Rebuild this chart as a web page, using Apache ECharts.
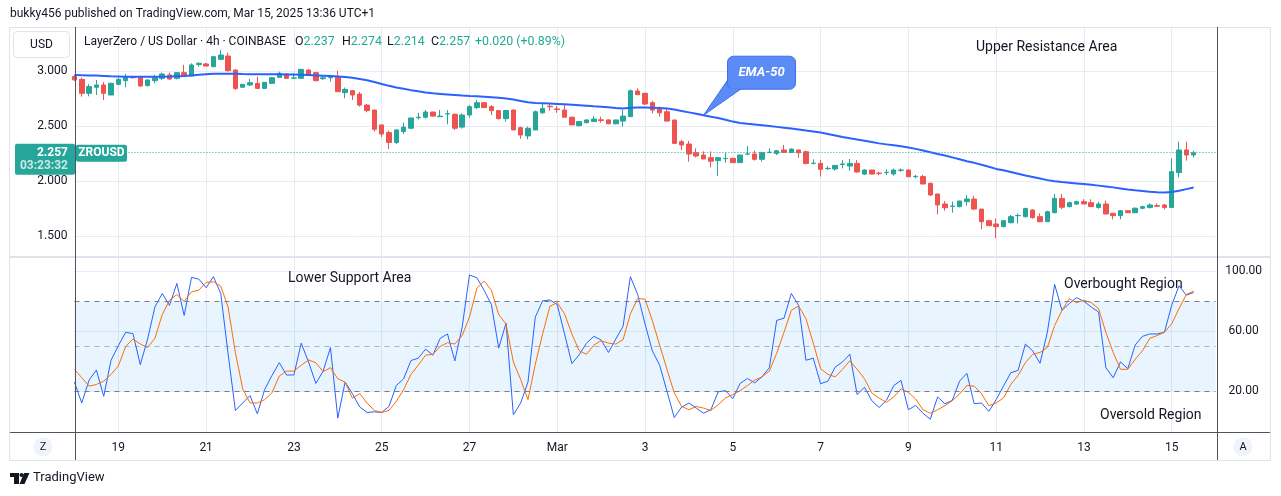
<!DOCTYPE html>
<html><head><meta charset="utf-8">
<script src="https://cdn.jsdelivr.net/npm/echarts@6/dist/echarts.min.js"></script>
<style>html,body{margin:0;padding:0;background:#fff}#c{width:1281px;height:496px}</style>
</head><body><div id="c"></div>
<script>
// ---------- DATA (4h candles, LayerZero / US Dollar, COINBASE) ----------
// first candle: 2025-02-18 00:00, last: 2025-03-15 12:00
const firstCandle = '2025-02-18 00:00';
const extraSlots = 3; // empty 4h slots on the right
const opens = [
 2.95,2.924,2.797,2.852,2.873,2.782,2.879,2.912,2.945,2.948,
 2.867,2.912,2.933,2.964,2.933,2.985,2.955,3.058,3.064,3.039,
 3.106,3.136,3.009,2.852,2.873,2.888,2.842,2.888,2.942,2.973,
 2.935,2.933,3.009,2.985,2.930,2.939,2.948,2.803,2.821,2.79,
 2.69,2.645,2.51,2.44,2.35,2.45,2.48,2.575,2.58,2.627,
 2.585,2.61,2.606,2.49,2.60,2.667,2.712,2.676,2.64,2.567,
 2.645,2.485,2.41,2.464,2.62,2.68,2.655,2.645,2.58,2.503,
 2.53,2.54,2.556,2.555,2.52,2.545,2.585,2.818,2.797,2.712,
 2.654,2.63,2.554,2.357,2.336,2.257,2.236,2.212,2.185,2.203,
 2.206,2.167,2.245,2.245,2.197,2.259,2.251,2.282,2.26,2.282,
 2.266,2.16,2.16,2.112,2.109,2.15,2.136,2.16,2.063,2.1,
 2.072,2.076,2.064,2.097,2.1,2.039,2.04,1.979,1.882,1.791,
 1.770,1.767,1.812,1.836,1.745,1.639,1.609,1.585,1.621,1.685,
 1.676,1.736,1.676,1.63,1.712,1.842,1.767,1.791,1.812,1.803,
 1.76,1.791,1.706,1.685,1.73,1.712,1.752,1.758,1.776,1.782,
 1.76,2.076,2.282,2.237];
const highs = [
 2.96,2.94,2.88,2.918,2.90,2.894,2.94,2.973,2.955,2.955,
 2.925,2.964,2.985,2.985,2.99,3.055,3.07,3.079,3.075,3.135,
 3.191,3.167,3.015,2.882,2.927,2.948,2.90,2.942,2.994,2.978,
 2.979,3.02,3.015,2.99,2.964,2.964,3.003,2.85,2.827,2.81,
 2.70,2.65,2.51,2.458,2.473,2.53,2.573,2.62,2.645,2.63,
 2.645,2.645,2.615,2.615,2.69,2.736,2.715,2.69,2.645,2.64,
 2.652,2.494,2.494,2.64,2.70,2.706,2.682,2.69,2.585,2.54,
 2.56,2.59,2.585,2.56,2.555,2.645,2.833,2.842,2.803,2.73,
 2.676,2.66,2.56,2.373,2.364,2.297,2.27,2.27,2.215,2.257,
 2.21,2.236,2.318,2.275,2.267,2.297,2.282,2.327,2.297,2.282,
 2.276,2.197,2.19,2.136,2.145,2.19,2.20,2.19,2.106,2.1,
 2.085,2.106,2.112,2.115,2.106,2.055,2.055,1.985,1.882,1.818,
 1.812,1.821,1.873,1.864,1.745,1.648,1.66,1.645,1.691,1.706,
 1.758,1.743,1.706,1.73,1.882,1.882,1.812,1.821,1.834,1.834,
 1.812,1.821,1.706,1.736,1.73,1.761,1.776,1.797,1.797,1.791,
 2.206,2.358,2.358,2.274];
const lows = [
 2.91,2.767,2.77,2.782,2.736,2.78,2.87,2.852,2.93,2.855,
 2.86,2.888,2.918,2.918,2.924,2.955,2.955,3.039,3.045,3.035,
 3.106,2.994,2.827,2.852,2.864,2.842,2.84,2.885,2.94,2.93,
 2.930,2.93,2.96,2.905,2.918,2.903,2.812,2.752,2.736,2.676,
 2.625,2.45,2.40,2.29,2.336,2.427,2.47,2.56,2.567,2.585,
 2.58,2.515,2.464,2.476,2.576,2.652,2.665,2.60,2.56,2.54,
 2.464,2.385,2.379,2.464,2.61,2.64,2.62,2.58,2.51,2.494,
 2.524,2.536,2.53,2.518,2.515,2.494,2.585,2.785,2.69,2.615,
 2.585,2.54,2.342,2.28,2.176,2.215,2.20,2.124,2.045,2.166,
 2.167,2.167,2.236,2.185,2.176,2.251,2.236,2.26,2.254,2.212,
 2.151,2.151,2.04,2.10,2.094,2.115,2.094,2.076,2.054,2.063,
 2.052,2.054,2.048,2.082,2.033,2.024,1.97,1.864,1.697,1.73,
 1.712,1.76,1.776,1.736,1.563,1.594,1.479,1.579,1.615,1.615,
 1.667,1.657,1.624,1.63,1.706,1.742,1.761,1.782,1.791,1.767,
 1.748,1.70,1.652,1.652,1.712,1.706,1.742,1.752,1.767,1.742,
 1.76,2.033,2.185,2.214];
const closes = [
 2.92,2.797,2.858,2.873,2.797,2.888,2.924,2.948,2.939,2.864,
 2.918,2.939,2.973,2.927,2.985,2.958,3.055,3.07,3.045,3.13,
 3.145,3.003,2.842,2.879,2.894,2.842,2.897,2.939,2.979,2.933,
 2.937,3.015,2.964,2.912,2.939,2.942,2.812,2.833,2.782,2.69,
 2.64,2.47,2.427,2.35,2.464,2.49,2.573,2.58,2.627,2.59,
 2.59,2.612,2.48,2.60,2.676,2.712,2.667,2.64,2.567,2.64,
 2.464,2.418,2.479,2.63,2.66,2.675,2.65,2.58,2.51,2.54,
 2.555,2.563,2.55,2.52,2.555,2.59,2.82,2.785,2.70,2.645,
 2.62,2.545,2.342,2.327,2.245,2.227,2.20,2.18,2.212,2.205,
 2.167,2.236,2.246,2.197,2.257,2.262,2.275,2.26,2.29,2.257,
 2.16,2.161,2.106,2.115,2.142,2.155,2.16,2.082,2.1,2.063,
 2.068,2.079,2.1,2.1,2.039,2.042,1.973,1.873,1.782,1.757,
 1.772,1.818,1.836,1.745,1.63,1.594,1.585,1.639,1.676,1.686,
 1.749,1.667,1.63,1.721,1.842,1.761,1.803,1.812,1.791,1.767,
 1.791,1.70,1.685,1.73,1.712,1.752,1.767,1.782,1.770,1.76,
 2.085,2.282,2.236,2.257];
const ema50 = [
 2.963,
 2.962,2.960,2.958,2.955,2.952,2.950,
 2.948,2.947,2.947,2.947,2.948,2.948,2.949,
 2.952,2.955,2.960,2.965,2.970,2.974,2.976,
 2.976,2.974,2.972,2.971,2.970,2.970,2.970,
 2.970,2.969,2.968,2.966,2.963,2.960,2.957,
 2.954,2.950,2.945,2.938,2.928,2.915,
 2.900,2.882,2.865,2.850,2.838,2.826,2.815,2.805,
 2.797,2.792,2.787,2.782,2.777,2.773,2.770,2.766,2.762,
 2.757,2.750,2.740,2.728,2.715,2.710,2.707,2.704,2.701,
 2.698,2.694,2.689,2.684,2.679,2.675,2.670,2.664,
 2.660,2.665,2.668,2.668,2.666,2.663,2.660,
 2.650,2.637,2.624,2.611,2.598,2.585,2.572,2.556,
 2.540,2.528,2.520,2.513,2.506,2.499,2.492,2.485,2.477,2.469,
 2.460,2.450,2.440,2.428,2.414,2.400,2.388,2.377,2.366,2.354,
 2.342,2.333,2.324,2.315,2.305,2.292,2.278,2.262,2.245,2.232,
 2.215,2.198,2.180,2.165,2.148,2.130,2.110,2.098,2.082,2.066,
 2.050,2.036,2.022,2.008,1.998,1.990,1.984,1.978,1.972,1.965,
 1.958,1.950,1.942,1.932,1.922,1.915,1.909,1.903,1.898,1.895,
 1.900,1.912,1.926,1.940];
// Stochastic RSI  %K (blue) and %D (orange)
const stochK = [
 26.1,12.2,27.4,34.1,16.6,40.6,50.3,59.2,58.3,37.7,
 54.7,76.0,85.0,77.1,91.7,70.4,95.7,94.6,88.8,96.2,
 85.0,45.0,7.2,12.2,17.1,5.0,21.1,30.5,39.0,30.8,
 30.8,52.0,39.5,25.2,33.4,49.1,2.1,26.1,18.4,9.5,
 5.9,6.3,5.9,9.9,23.8,28.3,40.4,42.0,48.0,44.0,
 55.2,58.1,40.2,62.6,97.3,95.5,87.2,77.6,48.7,65.3,
 4.3,12.2,26.1,69.3,80.1,80.7,77.6,58.1,38.4,44.2,
 52.0,56.5,54.1,45.8,54.7,63.2,96.2,84.3,64.8,46.9,
 37.3,20.0,2.5,9.5,12.2,8.8,5.4,7.7,19.6,20.4,
 15.1,25.2,28.5,25.6,29.6,35.7,67.1,68.6,85.0,77.1,
 40.6,42.0,25.0,26.7,36.1,39.5,44.6,17.8,22.7,13.7,
 9.2,13.9,23.8,27.2,7.7,10.6,5.4,1.4,16.2,11.7,
 13.9,26.7,31.9,11.7,12.2,6.6,14.4,23.4,32.3,33.9,
 51.4,46.9,38.6,59.2,91.0,73.8,78.3,82.3,79.8,76.0,
 72.7,35.7,29.0,39.5,35.0,50.7,56.5,58.1,58.1,59.2,
 77.1,90.1,83.9,85.7];
const stochD = [
 34.6,29.0,23.4,24.5,26.7,31.2,36.8,49.8,54.7,51.4,
 49.1,55.2,70.9,80.5,84.3,79.8,86.1,87.2,92.4,92.8,
 89.9,76.0,45.8,21.6,12.2,12.2,14.4,18.9,30.1,33.4,
 33.4,37.3,40.8,39.0,33.0,35.7,28.3,26.1,15.5,18.4,
 12.2,7.2,5.9,7.2,13.3,21.1,31.2,37.3,44.0,44.6,
 49.8,52.3,51.4,57.0,69.3,88.3,93.3,87.2,70.9,64.8,
 39.5,27.8,14.4,37.9,58.1,76.5,78.9,71.5,58.1,46.9,
 44.6,50.7,53.6,52.0,51.4,54.3,71.5,81.6,81.2,67.1,
 50.7,34.6,18.9,9.9,7.7,9.9,8.8,7.2,11.0,15.5,
 17.8,20.4,23.8,27.4,29.6,33.4,45.3,59.2,73.8,76.7,
 68.2,52.0,35.0,31.2,29.6,34.6,40.2,34.6,28.3,18.9,
 15.5,12.6,16.2,21.6,19.3,14.8,7.7,5.4,7.7,10.4,
 13.7,18.2,23.8,23.4,18.4,10.4,12.2,15.5,24.5,30.5,
 39.0,44.6,45.8,49.1,63.7,73.8,81.6,78.9,80.5,78.9,
 74.9,59.2,45.8,34.6,34.6,41.3,46.9,55.2,57.0,59.2,
 64.8,74.9,84.3,86.6];
const tickDates  = ['2025-02-19 00:00','2025-02-21 00:00','2025-02-23 00:00','2025-02-25 00:00','2025-02-27 00:00','2025-03-01 00:00','2025-03-03 00:00','2025-03-05 00:00','2025-03-07 00:00','2025-03-09 00:00','2025-03-11 00:00','2025-03-13 00:00','2025-03-15 00:00'];
const tickLabels = ['19','21','23','25','27','Mar','3','5','7','9','11','13','15'];
const priceTicks = [1.0,1.5,2.0,2.5,3.0,3.5];
const oscTicks = [-20,20,60,100,140];
const lastPrice = 2.257;
const emaCalloutAt = '2025-03-04 08:00';

// ---------- categories ----------
function fmt(d){const p=n=>String(n).padStart(2,'0');return d.getUTCFullYear()+'-'+p(d.getUTCMonth()+1)+'-'+p(d.getUTCDate())+' '+p(d.getUTCHours())+':'+p(d.getUTCMinutes());}
const t0 = Date.parse(firstCandle.replace(' ','T')+':00Z');
const categories = [];
for (let i=0;i<opens.length+extraSlots;i++) categories.push(fmt(new Date(t0+i*4*3600e3)));
const tickMap = {}; tickDates.forEach((d,i)=>tickMap[d]=tickLabels[i]);
const candleData = opens.map((o,i)=>[o,closes[i],lows[i],highs[i]]);

// ---------- layout ----------
const X0 = 74.45, STEP = 7.315;
const GW = (categories.length-1)*STEP;
const FONT = 'Roboto, "Noto Sans", sans-serif';
const INK = '#131722', GRID = '#e6ecf5', UP = '#26a69a', DOWN = '#ef5350';
const chart = echarts.init(document.getElementById('c'), null, {renderer:'canvas'});
const catAxis = (gi, extra) => Object.assign({type:'category', gridIndex:gi, data:categories, boundaryGap:false,
  axisLine:{show:false}, axisTick:{show:false}, axisLabel:{show:false}, splitLine:{show:false}}, extra||{});
const isTick = (i, v) => tickMap[v !== undefined ? v : categories[i]] !== undefined;

chart.setOption({
  animation:false,
  backgroundColor:'#ffffff',
  textStyle:{fontFamily:FONT},
  grid:[
    {left:X0, width:GW, top:16, height:275},      // price pane (1.0 .. 3.5)
    {left:X0, width:GW, top:210.8, height:240.6}, // oscillator pane (-20 .. 140)
    {left:X0, width:GW, top:432, height:1},       // time axis
    {left:X0, width:GW, top:27, height:405}       // vertical grid lines
  ],
  xAxis:[
    catAxis(0), catAxis(1),
    catAxis(2,{axisLabel:{show:true, interval:(i,v)=>isTick(i,v), formatter:v=>tickMap[v]||'', color:INK, fontSize:12, margin:9, fontFamily:FONT}}),
    catAxis(3,{splitLine:{show:true, interval:(i,v)=>isTick(i,v), lineStyle:{color:GRID, width:1}}})
  ],
  yAxis:[
    {type:'value', gridIndex:0, min:priceTicks[0], max:priceTicks[priceTicks.length-1], interval:0.5, position:'left',
     axisLine:{show:false}, axisTick:{show:false},
     axisLabel:{color:INK, fontSize:12, margin:7, fontFamily:FONT, formatter:v=>(v<1.4||v>3.1)?'':v.toFixed(3)},
     splitLine:{show:true, lineStyle:{color:['rgba(0,0,0,0)',GRID,GRID,GRID,GRID,'rgba(0,0,0,0)'], width:1}}},
    {type:'value', gridIndex:1, min:oscTicks[0], max:oscTicks[oscTicks.length-1], interval:40, position:'right',
     axisLine:{show:false}, axisTick:{show:false},
     axisLabel:{color:INK, fontSize:12, margin:28, align:'center', fontFamily:FONT, formatter:v=>(v<0||v>100)?'':v.toFixed(2)},
     splitLine:{show:true, lineStyle:{color:['rgba(0,0,0,0)',GRID,GRID,GRID,'rgba(0,0,0,0)'], width:1}}},
    {type:'value', gridIndex:2, show:false},
    {type:'value', gridIndex:3, show:false}
  ],
  series:[
    {type:'candlestick', xAxisIndex:0, yAxisIndex:0, data:candleData, barWidth:5,
     itemStyle:{color:UP, color0:DOWN, borderColor:UP, borderColor0:DOWN, borderWidth:1},
     markLine:{silent:true, symbol:'none', label:{show:false},
       lineStyle:{color:UP, type:[1,2], width:1}, data:[{yAxis:lastPrice}]}},
    {type:'line', xAxisIndex:0, yAxisIndex:0, data:ema50, showSymbol:false, symbol:'none',
     lineStyle:{color:'#2962ff', width:2}, z:3},
    {type:'line', xAxisIndex:1, yAxisIndex:1, data:stochK, showSymbol:false, symbol:'none',
     lineStyle:{color:'#2962ff', width:1},
     markArea:{silent:true, itemStyle:{color:'rgba(33,150,243,0.1)'}, data:[[{yAxis:20},{yAxis:80}]]},
     markLine:{silent:true, symbol:'none', label:{show:false}, data:[
       {yAxis:80, lineStyle:{color:'#787b86', type:[5,5], width:1}},
       {yAxis:50, lineStyle:{color:'rgba(120,123,134,0.55)', type:[5,5], width:1}},
       {yAxis:20, lineStyle:{color:'#787b86', type:[5,5], width:1}}]}},
    {type:'line', xAxisIndex:1, yAxisIndex:1, data:stochD, showSymbol:false, symbol:'none',
     lineStyle:{color:'#ff6d00', width:1}}
  ]
});

// ---------- chrome & annotations ----------
const tf = (x,y,text,opt) => ({type:'text', x, y, silent:true, z:50,
  style:Object.assign({text, fill:INK, font:'12px '+FONT, textAlign:'left', textVerticalAlign:'middle'}, opt||{})});
const line = (x1,y1,x2,y2,color,w) => ({type:'line', silent:true, z:40, shape:{x1,y1,x2,y2}, style:{stroke:color, lineWidth:w||1}});
const g = [];
g.push(tf(10,14,'bukky456 published on TradingView.com, Mar 15, 2025 13:36 UTC+1'));
g.push({type:'rect', silent:true, z:39, shape:{x:9.5,y:27.5,width:1261,height:433}, style:{fill:'none', stroke:'#e0e3eb', lineWidth:1}});
g.push({type:'rect', silent:true, z:39, shape:{x:10,y:256,width:1260,height:2}, style:{fill:'#e0e3eb'}});
g.push(line(75.5,27,75.5,460,'#50535e',1));
g.push(line(1217.5,27,1217.5,460,'#50535e',1));
g.push(line(10,432.5,1270,432.5,'#50535e',1));
g.push({type:'rect', silent:true, z:41, shape:{x:13.5,y:31.5,width:56,height:26,r:4}, style:{fill:'#fff', stroke:'#e0e3eb', lineWidth:1}});
g.push(tf(41.5,44.5,'USD',{textAlign:'center', font:'12px '+FONT}));
g.push(tf(84,42,'LayerZero / US Dollar · 4h · COINBASE',{font:'12px '+FONT}));
const legendVals = [['O','2.237',295],['H','2.274',342],['L','2.214',387],['C','2.257',431]];
legendVals.forEach(([k,v,x])=>g.push({type:'text', x, y:42, silent:true, z:50,
  style:{text:k+'{v|'+v+'}', fill:INK, font:'12.4px '+FONT, textVerticalAlign:'middle', rich:{v:{fill:'#22ab94', font:'12.4px '+FONT}}}}));
g.push(tf(475,42,'+0.020 (+0.89%)',{fill:'#22ab94', font:'12.4px '+FONT}));
// annotations
g.push(tf(976,47,'Upper Resistance Area',{font:'14px '+FONT}));
g.push(tf(288,278,'Lower Support Area',{font:'14px '+FONT}));
g.push(tf(1064,284,'Overbought Region',{font:'14px '+FONT}));
g.push(tf(1100,415,'Oversold Region',{font:'14px '+FONT}));
// Z / A buttons
g.push({type:'circle', silent:true, z:41, shape:{cx:43,cy:447,r:9.5}, style:{fill:'#f0f3fa'}});
g.push(tf(43,447.5,'Z',{textAlign:'center', font:'11px '+FONT}));
g.push({type:'circle', silent:true, z:41, shape:{cx:1243,cy:447,r:9.5}, style:{fill:'#f0f3fa'}});
g.push(tf(1243,447.5,'A',{textAlign:'center', font:'11px '+FONT}));
// TradingView logo (simplified mark) + wordmark
g.push({type:'rect', silent:true, z:41, shape:{x:10,y:473,width:9,height:4}, style:{fill:INK}});
g.push({type:'rect', silent:true, z:41, shape:{x:14,y:473,width:5,height:11}, style:{fill:INK}});
g.push({type:'circle', silent:true, z:41, shape:{cx:21.5,cy:475,r:2}, style:{fill:INK}});
g.push({type:'polygon', silent:true, z:41, shape:{points:[[24,473],[29.5,473],[24.5,484],[19.5,484]]}, style:{fill:INK}});
g.push(tf(33,478,'TradingView',{font:'13px '+FONT}));

// price labels anchored at last price
const pY = chart.convertToPixel({xAxisIndex:0, yAxisIndex:0}, [categories[0], lastPrice])[1];
g.push({type:'rect', silent:true, z:45, shape:{x:15,y:pY-9,width:60,height:31,r:2}, style:{fill:UP}});
g.push(tf(68,pY,lastPrice.toFixed(3),{textAlign:'right', fill:'#fff', font:'bold 12px '+FONT}));
g.push(tf(68,pY+13.5,'03:23:32',{textAlign:'right', fill:'rgba(255,255,255,0.75)', font:'bold 12px '+FONT}));
g.push({type:'rect', silent:true, z:45, shape:{x:76,y:pY-8,width:51,height:17,r:2}, style:{fill:UP}});
g.push(tf(101.5,pY+0.5,'ZROUSD',{textAlign:'center', fill:'#fff', font:'bold 12px '+FONT}));

// EMA-50 callout anchored on the EMA line
const ci = categories.indexOf(emaCalloutAt);
const tip = chart.convertToPixel({xAxisIndex:0, yAxisIndex:0}, [categories[ci], ema50[ci]]);
const tx = tip[0], ty = tip[1];
g.push({type:'polygon', silent:true, z:46, shape:{points:[[tx,ty],[tx+24,ty-35],[tx+37,ty-26]]}, style:{fill:'#5b8cf5', stroke:'#3d6cf0', lineWidth:1}});
g.push({type:'rect', silent:true, z:47, shape:{x:tx+24,y:ty-59,width:68,height:33,r:6}, style:{fill:'#5b8cf5', stroke:'#3d6cf0', lineWidth:1}});
g.push({type:'polygon', silent:true, z:48, shape:{points:[[tx+1.5,ty-2],[tx+25.5,ty-27],[tx+36,ty-26.5]]}, style:{fill:'#5b8cf5'}});
g.push(tf(tx+58,ty-42,'EMA-50',{textAlign:'center', fill:'#fff', font:'italic bold 13px '+FONT}));

const lens = [opens,highs,lows,closes,ema50,stochK,stochD].map(a=>a.length);
if (new Set(lens).size!==1) g.push(tf(400,480,'LEN MISMATCH '+lens.join(','),{fill:'red'}));

chart.setOption({graphic:g});
</script></body></html>
